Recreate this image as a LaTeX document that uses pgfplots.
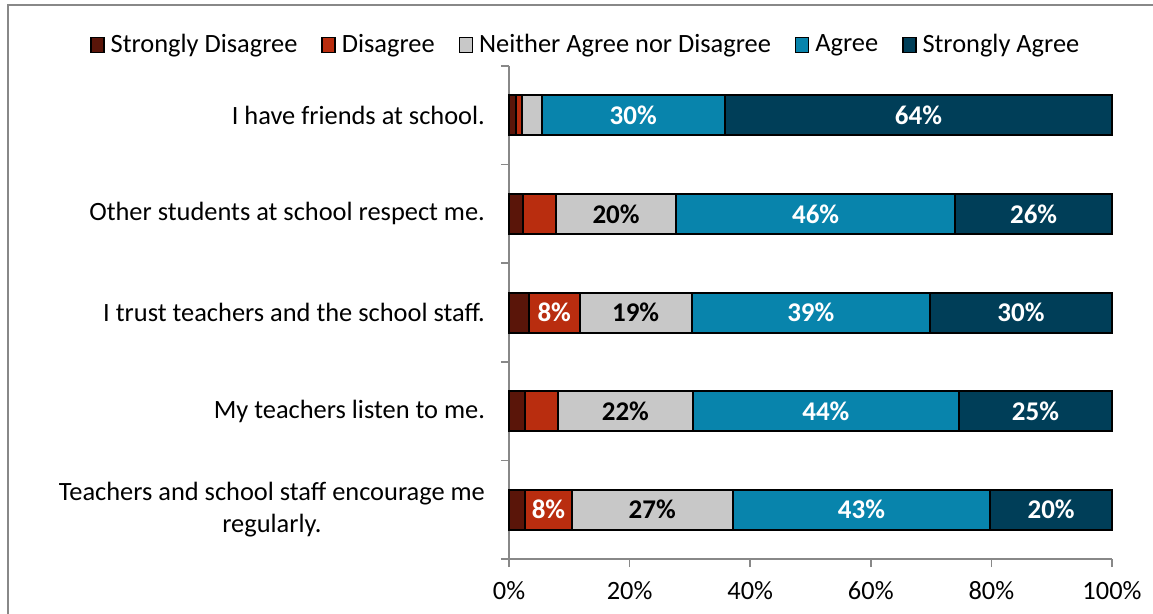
\documentclass[border=0pt]{standalone}
\usepackage{pgfplots}
\pgfplotsset{compat=1.18}
\usepackage{pgfplotstable}
\usepackage{fontspec}
\setmainfont{Carlito}
\definecolor{csd}{RGB}{90,21,9}
\definecolor{cd}{RGB}{185,45,15}
\definecolor{cn}{RGB}{200,200,200}
\definecolor{ca}{RGB}{8,132,172}
\definecolor{csa}{RGB}{0,62,88}
\definecolor{frame}{RGB}{136,136,136}
\pgfplotstableread{
y sd d n a sa lsd ld ln la lsa
0 1.2 0.9 3.3 30.4 64.2 0 0 0 30 64
1 2.4 5.4 19.9 46.3 26.0 0 0 20 46 26
2 3.3 8.4 18.6 39.5 30.2 0 8 19 39 30
3 2.7 5.4 22.4 44.1 25.4 0 0 22 44 25
4 2.7 7.7 26.7 42.7 20.2 0 8 27 43 20
}\data
\begin{document}
\begin{tikzpicture}
\path[use as bounding box] (0,0) rectangle (576.5pt,-307pt);
\draw[frame, line width=1pt] (4pt,-307pt) -- (4pt,-2.5pt) -- (576.5pt,-2.5pt);
\begin{axis}[
  at={(254.5pt,-279.5pt)}, anchor=south west,
  scale only axis, width=301.5pt, height=246.5pt,
  xbar stacked, bar width=20pt,
  xmin=0, xmax=100, ymin=-0.5, ymax=4.5, y dir=reverse,
  axis x line=bottom, axis y line=left,
  axis line style={frame, line width=0.8pt, -},
  xtick={0,20,...,100},
  xticklabel={\pgfmathprintnumber{\tick}\%},
  /pgf/number format/assume math mode=true,
  tick align=outside, major tick length=4pt, minor tick length=4pt,
  x tick style={frame, line width=0.8pt},
  ytick={0,1,2,3,4},
  minor ytick={-0.5,0.5,1.5,2.5,3.5,4.5},
  major y tick style={draw=none},
  minor y tick style={frame, line width=0.8pt},
  yticklabels={I have friends at school., Other students at school respect me., I trust teachers and the school staff., My teachers listen to me., {Teachers and school staff encourage me\\regularly.}},
  yticklabel style={align=center, font=\fontsize{13.2}{16}\selectfont, xshift=-4.5pt},
  xticklabel style={font=\fontsize{13.2}{16}\selectfont, yshift=-3.5pt},
  point meta=explicit symbolic,
  nodes near coords={\ifnum\pgfplotspointmeta>0 \pgfplotspointmeta\%\fi},
  every node near coord/.append style={font=\bfseries\fontsize{13.5}{16}\selectfont},
  legend style={at={(axis description cs:0.129,1.0426)}, anchor=center, draw=none, fill=none,
    legend columns=5, font=\fontsize{13.2}{16}\selectfont,
    /tikz/every even column/.append style={column sep=10pt},
    /tikz/every odd column/.append style={column sep=1pt}},
  legend cell align=left,
  legend image code/.code={\draw[#1, draw=black, line width=0.7pt] (0pt,-3.8pt) rectangle (6.5pt,3.8pt);},
  clip=false,
]
\addplot[fill=csd, draw=black, line width=1pt] table[x=sd, y=y, meta=lsd]{\data};
\addplot[fill=cd, draw=black, line width=1pt, every node near coord/.append style={text=white}] table[x=d, y=y, meta=ld]{\data};
\addplot[fill=cn, draw=black, line width=1pt, every node near coord/.append style={text=black}] table[x=n, y=y, meta=ln]{\data};
\addplot[fill=ca, draw=black, line width=1pt, every node near coord/.append style={text=white}] table[x=a, y=y, meta=la]{\data};
\addplot[fill=csa, draw=black, line width=1pt, every node near coord/.append style={text=white}] table[x=sa, y=y, meta=lsa]{\data};
\legend{Strongly Disagree, Disagree, Neither Agree nor Disagree, Agree, Strongly Agree}
\end{axis}
\end{tikzpicture}
\end{document}
